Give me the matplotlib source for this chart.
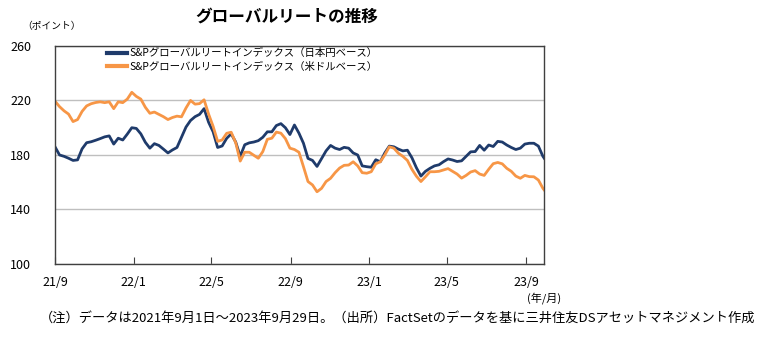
import pandas as pd
import matplotlib
matplotlib.use("Agg")
import matplotlib.pyplot as plt

plt.rcParams['font.family'] = ['Noto Sans CJK JP', 'DejaVu Sans']

# weekly readings (2021/9/1 start, 7-day steps) plus the last day 2023/9/29
start = "2021-09-01"
end = "2023-09-29"

jpy = [186, 180, 179, 177.6, 176, 176.4, 184.5, 189, 189.7, 190.8,
       192, 193.3, 194, 188, 192.3, 191, 195.3, 200, 199.5, 195.5,
       189.3, 185, 188.3, 187, 184.3, 181.5, 183.7, 185.5, 193, 200.5,
       205.3, 208.1, 209.8, 214, 204, 197, 185.5, 186.6, 192.2, 195.5,
       189.5, 179, 187.5, 188.9, 189.5, 190.5, 193, 197, 197, 201.6,
       203, 200, 195, 202, 196, 188.6, 177.5, 176, 171.6, 177.3,
       183, 187, 185, 184, 185.6, 185, 181.5, 180, 172, 171.4,
       171, 176.5, 175, 181.5, 186.5, 186, 184.3, 183, 183.5, 178,
       170.6, 164.5, 168, 170.2, 172, 172.8, 175.1, 177.1, 176.3, 175.2,
       175.7, 179, 182.3, 182.5, 187, 183.5, 187.3, 186.2, 190, 189.5,
       187.3, 185.5, 184, 185, 188, 188.6, 188.6, 186.5, 179, 177.6]

usd = [219.5, 215.5, 212.4, 210, 204.5, 206, 212, 216, 217.6, 218.5,
       219, 218.4, 219, 214, 219, 218.4, 221, 226, 223, 221,
       215, 210.6, 211.5, 209.8, 208.1, 206, 207.5, 208.5, 208, 214.5,
       220, 217.3, 217.7, 220.5, 210, 201, 190, 191, 195.9, 196.7,
       189, 175.5, 182, 182, 179.8, 177.6, 182.5, 191.5, 192.3, 196.8,
       196, 192, 185, 184, 182, 171.4, 160.5, 158, 153, 155.5,
       160.5, 162.9, 167, 170.4, 172.4, 172.6, 175, 172, 167, 166.6,
       167.7, 173.5, 175, 180, 186, 185, 181.3, 179, 176, 169.5,
       164.4, 160.5, 164, 167.7, 167.7, 168, 169, 170, 168, 166,
       163, 165, 167.5, 168.5, 166, 165, 169.5, 173.6, 174.5, 173.5,
       170.2, 168, 164.5, 162.9, 165, 164.1, 164, 161.6, 155.5, 154.3]

tick_dates = ["2021-09-01", "2022-01-01", "2022-05-01", "2022-09-01",
              "2023-01-01", "2023-05-01", "2023-09-01"]
tick_labels = ["21/9", "22/1", "22/5", "22/9", "23/1", "23/5", "23/9"]
y_ticks = [100, 140, 180, 220, 260]

dates = list(pd.date_range(start, periods=len(jpy) - 1, freq="7D")) + [pd.Timestamp(end)]

fig = plt.figure(figsize=(7.68, 3.38), dpi=100)
ax = fig.add_axes([0.0716, 0.219, 0.637, 0.645])

ax.plot(dates, jpy, color="#1F3B6B", lw=2.0, label="S&Pグローバルリートインデックス（日本円ベース）")
ax.plot(dates, usd, color="#F79646", lw=2.0, label="S&Pグローバルリートインデックス（米ドルベース）")

ax.set_xlim(pd.Timestamp(start), pd.Timestamp(end))
ax.set_ylim(100, 260)
ax.set_yticks(y_ticks)
ax.set_xticks([pd.Timestamp(d) for d in tick_dates])
ax.set_xticklabels(tick_labels)
ax.grid(axis="y", color="#BFBFBF", lw=1)
ax.set_axisbelow(True)
ax.tick_params(axis="y", length=0, pad=17, labelsize=9)
ax.tick_params(axis="x", direction="in", length=5, pad=9, labelsize=9, color="#404040")
for s in ax.spines.values():
    s.set_color("#404040")
    s.set_linewidth(1)

leg = ax.legend(loc="upper left", bbox_to_anchor=(0.106, 0.99), frameon=False,
                fontsize=7.5, handlelength=1.9, handletextpad=0.3,
                labelspacing=0.3, borderpad=0, borderaxespad=0)
for h in leg.get_lines():
    h.set_linewidth(3)

fig.text(0.374, 0.95, "グローバルリートの推移", ha="center", va="center",
         fontsize=12, fontweight="bold")
fig.text(0.029, 0.923, "（ポイント）", ha="left", va="center", fontsize=7)
fig.text(0.73, 0.118, "(年/月)", ha="right", va="center", fontsize=8)
fig.text(0.983, 0.059, "（注）データは2021年9月1日～2023年9月29日。（出所）FactSetのデータを基に三井住友DSアセットマネジメント作成",
         ha="right", va="center", fontsize=9.5)

fig.savefig("out.png", dpi=100)
